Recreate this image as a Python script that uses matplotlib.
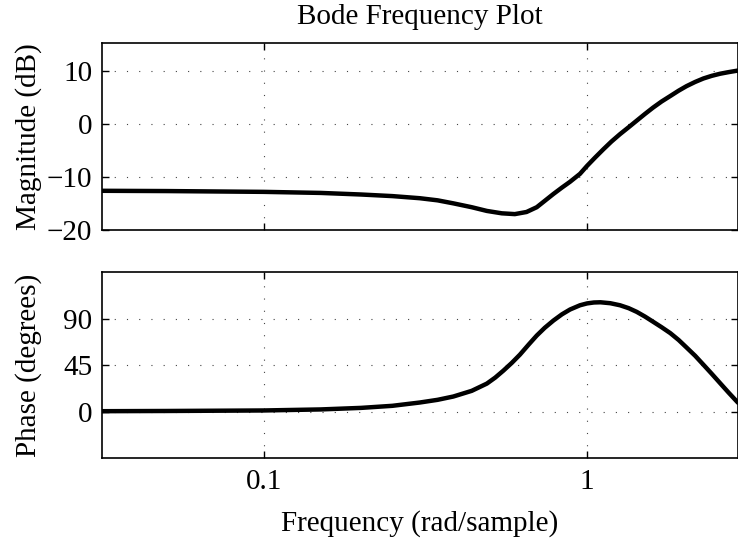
import numpy as np
import matplotlib
matplotlib.use('Agg')
import matplotlib.pyplot as plt

# frequency samples (rad/sample)
freq_mag = [0.0316, 0.05, 0.1, 0.15, 0.2, 0.25, 0.304, 0.345, 0.386, 0.44, 0.49,
            0.545, 0.598, 0.65, 0.699, 0.74, 0.787, 0.836, 0.886, 0.951, 1.0,
            1.06, 1.124, 1.19, 1.265, 1.345, 1.425, 1.51, 1.60, 1.70, 1.81,
            1.92, 2.03, 2.16, 2.29, 2.43, 2.58, 2.74, 2.93]
mag_db = [-12.6, -12.65, -12.8, -13.0, -13.3, -13.6, -14.0, -14.4, -14.97, -15.7,
          -16.4, -16.85, -17.0, -16.6, -15.7, -14.5, -13.2, -12.0, -10.9, -9.4,
          -7.9, -6.3, -4.75, -3.3, -1.9, -0.6, 0.65, 1.9, 3.1, 4.25, 5.3,
          6.3, 7.15, 7.95, 8.6, 9.1, 9.5, 9.8, 10.1]

freq_ph = [0.0316, 0.05, 0.1, 0.15, 0.2, 0.25, 0.304, 0.345, 0.386, 0.44, 0.49,
           0.52, 0.551, 0.585, 0.62, 0.66, 0.699, 0.74, 0.787, 0.836, 0.886,
           0.951, 1.0, 1.05, 1.10, 1.18, 1.265, 1.345, 1.425, 1.51, 1.60,
           1.70, 1.81, 1.92, 2.03, 2.16, 2.29, 2.43, 2.58, 2.74, 2.93]
phase_deg = [0.3, 0.5, 1.0, 2.0, 3.5, 5.5, 8.7, 11.3, 14.5, 20.0, 27.0,
             32.8, 39.5, 47.0, 55.0, 64.8, 73.5, 81.0, 88.0, 94.0, 98.7,
             102.8, 104.6, 105.5, 105.7, 104.8, 102.8, 100.0, 96.4, 91.9, 86.9,
             81.6, 75.8, 69.2, 62.0, 53.9, 45.3, 36.5, 27.4, 18.3, 8.5]

plt.rcParams['font.family'] = ['Liberation Serif', 'DejaVu Serif']
plt.rcParams['font.size'] = 21

fig = plt.figure(figsize=(7.38, 5.48), dpi=100)
ax1 = fig.add_axes([102 / 738, 1 - 230 / 548, (738 - 102) / 738, 187 / 548])
ax2 = fig.add_axes([102 / 738, 1 - 458 / 548, (738 - 102) / 738, 186 / 548])

xlim = (10 ** -1.5, 2.93)
for ax in (ax1, ax2):
    ax.set_xscale('log')
    ax.set_xlim(xlim)
    ax.set_xticks([0.1, 1])
    ax.xaxis.set_minor_locator(matplotlib.ticker.NullLocator())
    ax.grid(True, which='major', color='#444444', linestyle=(0, (1, 10)), linewidth=0.8)
    ax.tick_params(direction='in', top=True, right=True, length=5, width=1, pad=7)
    for s in ax.spines.values():
        s.set_linewidth(1.2)

ax1.plot(freq_mag, mag_db, color='black', linewidth=3.2, solid_capstyle='round',
         solid_joinstyle='round')
ax1.set_ylim(-20, 15.3)
ax1.set_yticks([-20, -10, 0, 10])
ax1.set_yticklabels(['\u221220', '\u221210', '0', '10'])
ax1.set_xticklabels([])
ax1.set_ylabel('Magnitude (dB)')
ax1.yaxis.set_label_coords(-0.094, 0.5)
ax1.set_title('Bode Frequency Plot', fontsize=21, pad=14)

ax2.plot(freq_ph, phase_deg, color='black', linewidth=3.2, solid_capstyle='round',
         solid_joinstyle='round')
ax2.set_ylim(-45, 135)
ax2.set_yticks([0, 45, 90])
ax2.set_xticklabels(['0.1', '1'])
ax2.tick_params(axis='x', pad=8)
ax2.set_ylabel('Phase (degrees)')
ax2.yaxis.set_label_coords(-0.094, 0.5)
ax2.set_xlabel('Frequency (rad/sample)', labelpad=11)

fig.savefig('out.png', dpi=100)
plt.close(fig)
